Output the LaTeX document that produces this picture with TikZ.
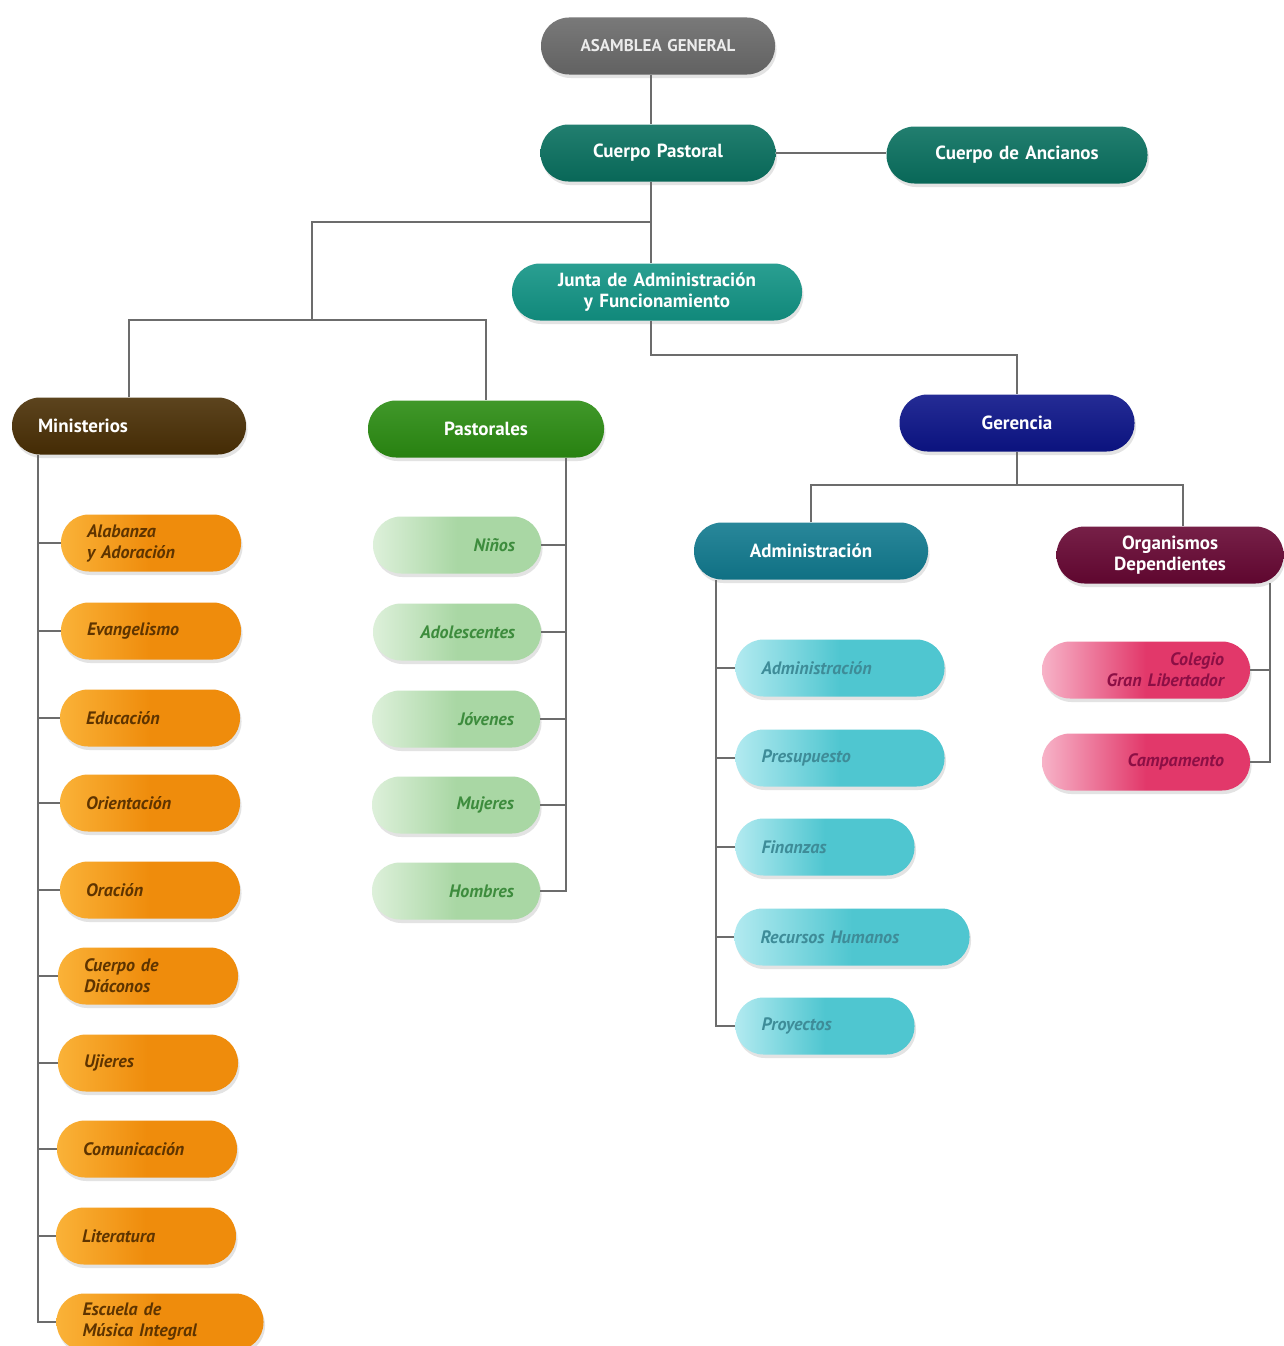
\documentclass[tikz,border=0pt]{standalone}
\usepackage{fontspec}
\setmainfont{PT Sans}
\usetikzlibrary{shadows}

% palette
\definecolor{linegray}{HTML}{6C6C6C}
\definecolor{asmgray}{HTML}{6A6A6A}
\definecolor{tealdark}{HTML}{09705F}
\definecolor{teallight}{HTML}{129485}
\definecolor{minbrown}{HTML}{4A2F05}
\definecolor{pasgreen}{HTML}{2B8C12}
\definecolor{gernavy}{HTML}{0C1489}
\definecolor{admpetrol}{HTML}{117A8F}
\definecolor{orgmaroon}{HTML}{670733}
\definecolor{orlight}{HTML}{FAB238}
\definecolor{orbase}{HTML}{EF8C0C}
\definecolor{ortext}{HTML}{5E3400}
\definecolor{grlight}{HTML}{DDF0DA}
\definecolor{grbase}{HTML}{A9D7A4}
\definecolor{grtext}{HTML}{3D8C3D}
\definecolor{cylight}{HTML}{B2EAF0}
\definecolor{cybase}{HTML}{4FC6D0}
\definecolor{cytext}{HTML}{3E8C98}
\definecolor{pklight}{HTML}{F7B3C8}
\definecolor{pkbase}{HTML}{E2386A}
\definecolor{pktext}{HTML}{8C0F45}

\begin{document}
\begin{tikzpicture}[x=1pt,y=-1pt,
  conn/.style={draw=linegray, line width=2.5pt},
  pillbase/.style={rectangle, rounded corners=28pt, minimum height=57pt,
    inner ysep=0pt, inner xsep=26pt,
    drop shadow={opacity=0.22, shadow xshift=1.5pt, shadow yshift=-3.5pt}},
  head/.style={pillbase, top color=#1!90!white, bottom color=#1!92!black, text=white,
    font=\fontsize{19}{21}\selectfont\bfseries, align=center},
  kid/.style={pillbase, font=\fontsize{18}{21}\selectfont\bfseries\itshape},
  orkid/.style={kid, left color=orlight, right color=orbase, middle color=orbase,
    text=ortext, align=left},
  grkid/.style={kid, left color=grlight, right color=grbase, middle color=grbase,
    text=grtext, align=right},
  cykid/.style={kid, left color=cylight, right color=cybase, middle color=cybase,
    text=cytext, align=left},
  pkkid/.style={kid, left color=pklight, right color=pkbase, middle color=pkbase,
    text=pktext, align=right}
]
\useasboundingbox (0,0) rectangle (1284,1346);
\fill[white] (0,0) rectangle (1284,1346);

% governing bodies
\node[head=asmgray, text=black!8, text width=182pt,
  font=\fontsize{17}{20}\selectfont\bfseries] (asm) at (658,46) {ASAMBLEA GENERAL};
\node[head=tealdark, text width=183pt] (cp) at (658,153) {Cuerpo Pastoral};
\node[head=tealdark, text width=209pt] (anc) at (1017,155) {Cuerpo de Ancianos};
\node[head=teallight, text width=238pt] (ja) at (657,292) {Junta de Administración\\y Funcionamiento};

% second level
\node[head=minbrown, text width=182pt, align=left] (min) at (129,426) {Ministerios};
\node[head=pasgreen, text width=184pt] (pas) at (486,429) {Pastorales};
\node[head=gernavy, text width=183pt] (ger) at (1017,423) {Gerencia};
\node[head=admpetrol, text width=182pt] (adm) at (811,551) {Administración};
\node[head=orgmaroon, text width=175pt] (org) at (1170,555) {Organismos\\Dependientes};

% ministries
\node[orkid, text width=128pt] (m1) at (151,543) {Alabanza\\y Adoración};
\node[orkid, text width=128pt] (m2) at (151,631) {Evangelismo};
\node[orkid, text width=128pt] (m3) at (150,718) {Educación};
\node[orkid, text width=128pt] (m4) at (150,803) {Orientación};
\node[orkid, text width=128pt] (m5) at (150,890) {Oración};
\node[orkid, text width=128pt] (m6) at (148,976) {Cuerpo de\\Diáconos};
\node[orkid, text width=128pt] (m7) at (148,1063) {Ujieres};
\node[orkid, text width=128pt] (m8) at (147,1149) {Comunicación};
\node[orkid, text width=128pt] (m9) at (146,1236) {Literatura};
\node[orkid, text width=155pt] (m10) at (160,1322) {Escuela de\\Música Integral};

% pastoral groups
\node[grkid, text width=116pt] (p1) at (457,545) {Niños};
\node[grkid, text width=116pt] (p2) at (457,632) {Adolescentes};
\node[grkid, text width=116pt] (p3) at (456,719) {Jóvenes};
\node[grkid, text width=116pt] (p4) at (456,805) {Mujeres};
\node[grkid, text width=116pt] (p5) at (456,891) {Hombres};

% administration units
\node[cykid, text width=157pt] (a1) at (840,668) {Administración};
\node[cykid, text width=157pt] (a2) at (840,758) {Presupuesto};
\node[cykid, text width=127pt] (a3) at (825,847) {Finanzas};
\node[cykid, text width=183pt] (a4) at (852,937) {Recursos Humanos};
\node[cykid, text width=127pt] (a5) at (825,1026) {Proyectos};

% dependent bodies
\node[pkkid, text width=156pt] (o1) at (1146,670) {Colegio\\Gran Libertador};
\node[pkkid, text width=156pt] (o2) at (1146,762) {Campamento};

% branch points
\coordinate (t1) at (651,222);
\coordinate (lbar) at (312,320);
\coordinate (jd) at (651,355);
\coordinate (gbar) at (1017,485);
\coordinate (ms) at (38,455);
\coordinate (ps) at (566,458);
\coordinate (as) at (716,580);
\coordinate (os) at (1270,583);

% trunk
\draw[conn] ([xshift=-7pt]asm.south) -- ([xshift=-7pt]cp.north);
\draw[conn] ([xshift=-7pt]cp.south) -- (t1) -- (t1 |- ja.north);
\draw[conn] (cp.east) -- (cp.east -| anc.west);
\draw[conn] (t1) -| (lbar);
\draw[conn] (min.north) |- (lbar) -| (pas.north);
\draw[conn] (t1 |- ja.south) -- (jd) -| (ger.north);
\draw[conn] (ger.south) -- (gbar);
\draw[conn] (adm.north) |- (gbar) -| ([xshift=13pt]org.north);

% spines with their branches
\draw[conn] (ms) |- (m10.west);
\foreach \k in {m1,m2,m3,m4,m5,m6,m7,m8,m9}
  \draw[conn] (\k.west) -- (\k.west -| ms);
\draw[conn] (ps) |- (p5.east);
\foreach \k in {p1,p2,p3,p4}
  \draw[conn] (\k.east) -- (\k.east -| ps);
\draw[conn] (as) |- (a5.west);
\foreach \k in {a1,a2,a3,a4}
  \draw[conn] (\k.west) -- (\k.west -| as);
\draw[conn] (os) |- (o2.east);
\draw[conn] (o1.east) -- (o1.east -| os);
\end{tikzpicture}
\end{document}
